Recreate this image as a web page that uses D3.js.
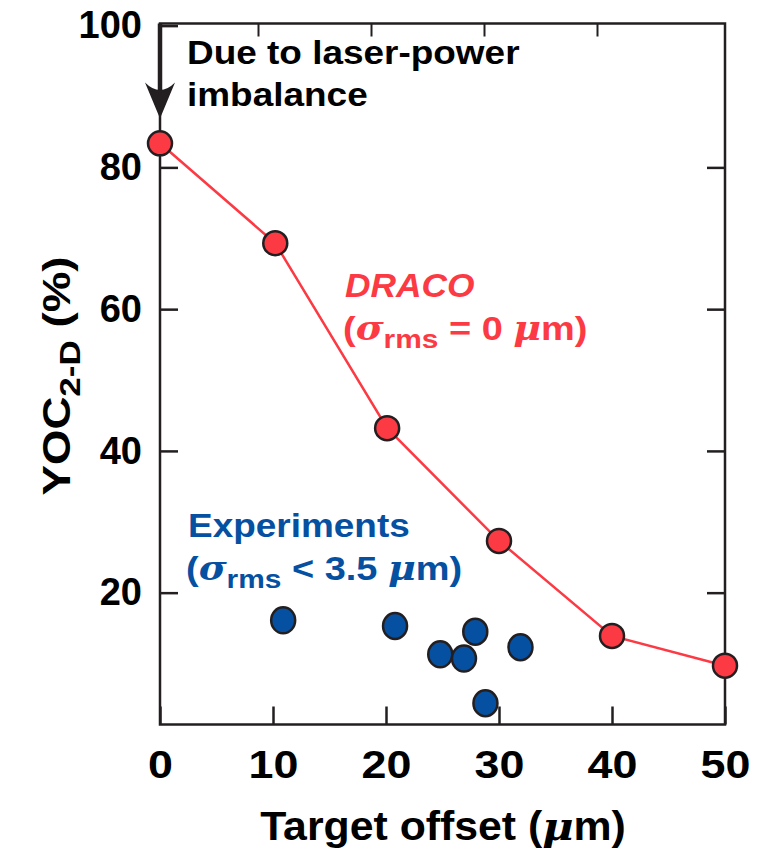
<!DOCTYPE html>
<html>
<head>
<meta charset="utf-8">
<script src="https://cdn.jsdelivr.net/npm/d3@7"></script>
<style>
  body { margin: 0; background: #fff; }
  svg text { font-family: "Liberation Sans", Arial, Helvetica, sans-serif; font-weight: bold; }
</style>
</head>
<body>
<div id="chart"></div>
<script>
// DRACO simulation (red line + dots)
var dracoOffset = [0, 10.2, 20.1, 30, 40, 50];
var dracoYoc    = [83.4, 69.3, 43.2, 27.3, 13.9, 9.7];

// experiments (blue dots)
var expOffset = [10.9, 20.8, 24.8, 26.9, 27.9, 28.8, 31.9];
var expYoc    = [16.1, 15.3, 11.3, 10.7, 14.5, 4.4, 12.3];

var xTicks = [0, 10, 20, 30, 40, 50];
var yTicks = [20, 40, 60, 80, 100];

var red = "#fc3a44", blue = "#0650a1", ink = "#231f20";

var width = 759, height = 850;

var svg = d3.select("#chart")
  .append("svg")
    .attr("width", width)
    .attr("height", height);

var x = d3.scaleLinear().domain([0, 50]).range([160, 725]);
var y = d3.scaleLinear().domain([1.4, 100.3]).range([724.5, 23.5]);

// text in the original is a bit wider than Liberation Sans, so stretch it
function label(px, py, size, sx) {
  return svg.append("text")
    .attr("transform", "translate(" + px + "," + py + ") scale(" + sx + ",1)")
    .style("font-size", size + "px");
}

// frame
svg.append("rect")
  .attr("x", x(0)).attr("y", y(100.3))
  .attr("width", x(50) - x(0)).attr("height", y(1.4) - y(100.3))
  .attr("fill", "none").attr("stroke", ink).attr("stroke-width", 2.5);

// bottom axis
var xAxis = svg.append("g")
  .attr("transform", "translate(0," + y(1.4) + ")")
  .call(d3.axisBottom(x).tickValues(xTicks).tickSizeInner(-18).tickSizeOuter(0).tickPadding(26));
xAxis.select(".domain").remove();
xAxis.selectAll("line").attr("stroke", ink).attr("stroke-width", 2.5);
xAxis.selectAll("text")
  .attr("fill", "#000")
  .attr("transform", "scale(1.15,1)")
  .style("font-size", "39px");

// top ticks (shifted a little in the original figure)
var topAxis = svg.append("g")
  .attr("transform", "translate(-15," + y(100.3) + ")")
  .call(d3.axisTop(x).tickValues([10, 20, 30, 40]).tickSizeInner(-13).tickSizeOuter(0).tickFormat(""));
topAxis.select(".domain").remove();
topAxis.selectAll("line").attr("stroke", ink).attr("stroke-width", 2);

// left axis
var yAxis = svg.append("g")
  .attr("transform", "translate(" + x(0) + ",0)")
  .call(d3.axisLeft(y).tickValues(yTicks).tickSizeInner(-18).tickSizeOuter(0).tickPadding(18));
yAxis.select(".domain").remove();
yAxis.selectAll("line").attr("stroke", ink).attr("stroke-width", 2.5);
yAxis.selectAll("text").attr("fill", "#000").style("font-size", "38px");

// right axis
var rAxis = svg.append("g")
  .attr("transform", "translate(" + x(50) + ",0)")
  .call(d3.axisRight(y).tickValues([20, 40, 60, 80]).tickSizeInner(-18).tickSizeOuter(0).tickFormat(""));
rAxis.select(".domain").remove();
rAxis.selectAll("line").attr("stroke", ink).attr("stroke-width", 2.5);

// axis titles
label(443, 840, 40, 1.07)
  .attr("text-anchor", "middle")
  .html('Target offset (<tspan font-style="italic" font-family="DejaVu Serif">μ</tspan>m)');

var yt = svg.append("text")
  .attr("transform", "translate(70,376) rotate(-90) scale(1.17,1)")
  .attr("text-anchor", "middle")
  .style("font-size", "39px");
yt.append("tspan").text("YOC");
yt.append("tspan").attr("dy", 10).style("font-size", "30px").text("2-D");
yt.append("tspan").attr("dy", -10).text(" (%)");

// DRACO line + points
var draco = dracoOffset.map((d, i) => ({x: d, y: dracoYoc[i]}));
var exps = expOffset.map((d, i) => ({x: d, y: expYoc[i]}));

svg.append("path")
  .datum(draco)
  .attr("fill", "none")
  .attr("stroke", red)
  .attr("stroke-width", 2.5)
  .attr("d", d3.line().x(d => x(d.x)).y(d => y(d.y)));

svg.selectAll(".draco")
  .data(draco)
  .enter()
  .append("circle")
    .attr("class", "draco")
    .attr("cx", d => x(d.x))
    .attr("cy", d => y(d.y))
    .attr("r", 12)
    .attr("fill", red)
    .attr("stroke", ink)
    .attr("stroke-width", 2.5);

svg.selectAll(".exp")
  .data(exps)
  .enter()
  .append("ellipse")
    .attr("class", "exp")
    .attr("cx", d => x(d.x))
    .attr("cy", d => y(d.y))
    .attr("rx", 12)
    .attr("ry", 13)
    .attr("fill", blue)
    .attr("stroke", ink)
    .attr("stroke-width", 2.5);

// arrow for the laser-power imbalance note
var ax = x(0), ay0 = y(100.3), ay1 = y(86.9);
svg.append("line")
  .attr("x1", ax).attr("x2", ax)
  .attr("y1", ay0).attr("y2", ay1 - 20)
  .attr("stroke", ink).attr("stroke-width", 4.5);
svg.append("path")
  .attr("d", "M" + ax + "," + ay1 +
             " L" + (ax - 15) + "," + (ay1 - 36) +
             " Q" + ax + "," + (ay1 - 21) + " " + (ax + 15) + "," + (ay1 - 36) + " Z")
  .attr("fill", ink);

label(187, 64, 33, 1.12).text("Due to laser-power");
label(187, 106, 33, 1.12).text("imbalance");

// series labels
function sigmaLabel(px, py, color, rest) {
  var t = label(px, py, 33, 1.15).attr("fill", color);
  t.append("tspan").text("(");
  t.append("tspan").attr("font-style", "italic").attr("font-family", "DejaVu Serif").text("σ");
  t.append("tspan").attr("dy", 8).style("font-size", "26px").text("rms");
  t.append("tspan").attr("dy", -8).text(" " + rest + " ");
  t.append("tspan").attr("font-style", "italic").attr("font-family", "DejaVu Serif").text("μ");
  t.append("tspan").text("m)");
}

label(345, 297, 33, 1.07)
  .attr("fill", red)
  .attr("font-style", "italic")
  .text("DRACO");
sigmaLabel(343, 340, red, "= 0");

label(188, 537, 33, 1.12)
  .attr("fill", blue)
  .text("Experiments");
sigmaLabel(186, 580, blue, "< 3.5");
</script>
</body>
</html>
